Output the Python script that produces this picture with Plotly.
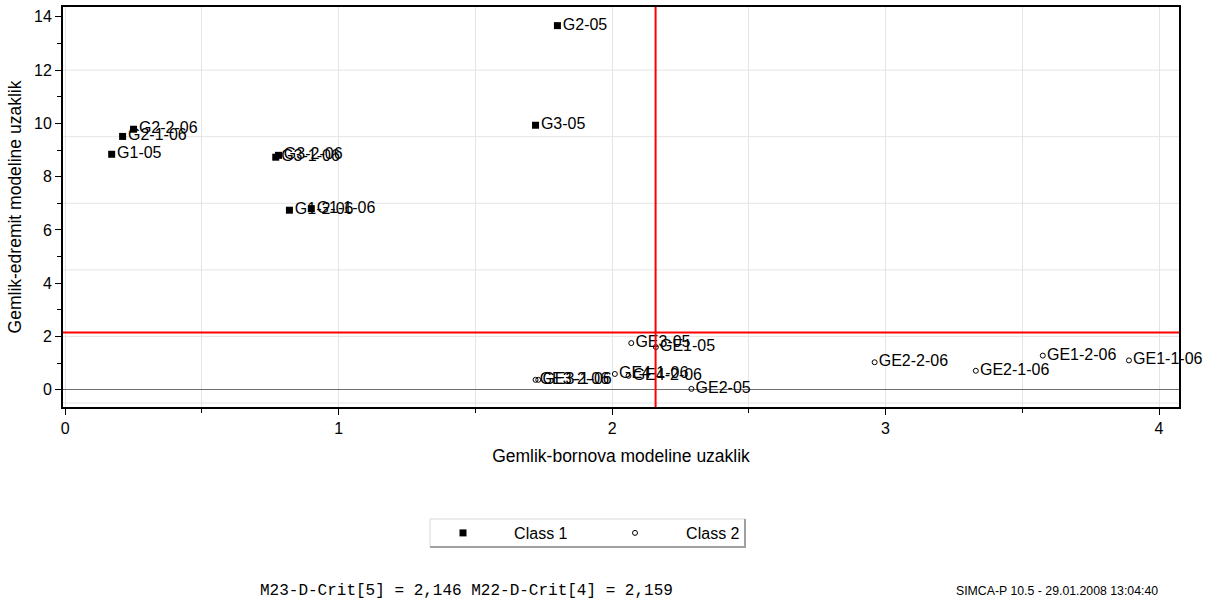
import plotly.graph_objects as go

# ---- data ----
class1_names = ["G2-05", "G3-05", "G2-2-06", "G2-1-06", "G1-05",
                "G3-2-06", "G3-1-06", "G1-2-06", "G1-1-06"]
class1_x = [1.80, 1.72, 0.25, 0.21, 0.17, 0.78, 0.77, 0.82, 0.90]
class1_y = [13.67, 9.93, 9.78, 9.51, 8.84, 8.80, 8.73, 6.74, 6.80]

class2_names = ["GE3-05", "GE1-05", "GE2-05", "GE3-2-06", "GE3-1-06",
                "GE4-1-06", "GE4-2-06", "GE2-2-06", "GE2-1-06",
                "GE1-2-06", "GE1-1-06"]
class2_x = [2.07, 2.16, 2.29, 1.72, 1.73, 2.01, 2.06, 2.96, 3.33, 3.575, 3.89]
class2_y = [1.75, 1.60, 0.03, 0.37, 0.37, 0.59, 0.52, 1.03, 0.71, 1.28, 1.10]

crit_x = 2.159   # M22-D-Crit[4]
crit_y = 2.146   # M23-D-Crit[5]

x_range = [-0.008, 4.073]
y_range = [-0.65, 14.37]
y_grid = [-0.5, 2, 4.5, 7, 9.5, 12]

FONT = "Liberation Sans, Arial, sans-serif"
NB = "\u00a0"

# plot-area geometry (pixels) used to place paper-referenced decorations
W, H = 1207, 600
ML, MR, MT, MB = 63, 28, 7, 193
PW, PH = W - ML - MR, H - MT - MB


def px(xp):
    return (xp - ML) / PW


def py(yp):
    return (H - MB - yp) / PH


fig = go.Figure()
fig.add_trace(go.Scatter(
    x=class1_x, y=class1_y, mode="markers+text", text=class1_names,
    textposition="middle right", name=NB * 7 + "Class 1",
    marker=dict(symbol="square", size=7, color="black", line=dict(width=0)),
    textfont=dict(family=FONT, size=16, color="black"), cliponaxis=True))
fig.add_trace(go.Scatter(
    x=class2_x, y=class2_y, mode="markers+text", text=class2_names,
    textposition="middle right", name=NB * 7 + "Class 2",
    marker=dict(symbol="circle-open", size=5, color="black", line=dict(width=1)),
    textfont=dict(family=FONT, size=16, color="black"), cliponaxis=False))

shapes = []
for gy in y_grid:
    shapes.append(dict(type="line", xref="paper", x0=0, x1=1, yref="y", y0=gy, y1=gy,
                       line=dict(color="#e4e4e4", width=1), layer="below"))
shapes.append(dict(type="line", xref="x", x0=crit_x, x1=crit_x, yref="paper", y0=0, y1=1,
                   line=dict(color="#ff0000", width=2)))
shapes.append(dict(type="line", xref="paper", x0=0, x1=1, yref="y", y0=crit_y, y1=crit_y,
                   line=dict(color="#ff0000", width=2)))
# legend box with bevel
shapes.append(dict(type="rect", xref="paper", yref="paper",
                   x0=px(430), x1=px(745), y0=py(547), y1=py(519),
                   line=dict(color="#d8d8d8", width=1), fillcolor="white", layer="below"))
shapes.append(dict(type="line", xref="paper", yref="paper",
                   x0=px(430), x1=px(746), y0=py(547), y1=py(547),
                   line=dict(color="#a0a0a0", width=2), layer="below"))
shapes.append(dict(type="line", xref="paper", yref="paper",
                   x0=px(745), x1=px(745), y0=py(547), y1=py(519),
                   line=dict(color="#a0a0a0", width=2), layer="below"))

fig.update_layout(
    width=W, height=H,
    margin=dict(l=ML, r=MR, t=MT, b=MB, autoexpand=False),
    paper_bgcolor="white", plot_bgcolor="white",
    font=dict(family=FONT, size=16, color="black"),
    shapes=shapes,
    showlegend=True,
    legend=dict(orientation="h", x=px(443), y=py(533), xanchor="left", yanchor="middle",
                borderwidth=0, bgcolor="rgba(0,0,0,0)",
                font=dict(family=FONT, size=16, color="black"),
                entrywidth=127, entrywidthmode="pixels", itemclick=False),
    annotations=[
        dict(text="M23-D-Crit[5] = 2,146 M22-D-Crit[4] = 2,159", xref="paper", yref="paper",
             x=px(466), y=py(591), xanchor="center", yanchor="middle", showarrow=False,
             font=dict(family="Liberation Mono, Courier New, monospace", size=16, color="black")),
        dict(text="SIMCA-P 10.5 - 29.01.2008 13:04:40", xref="paper", yref="paper",
             x=px(1160), y=py(591), xanchor="right", yanchor="middle", showarrow=False,
             font=dict(family=FONT, size=12.3, color="black")),
    ],
)
fig.update_xaxes(
    range=x_range, dtick=1, tick0=0, showgrid=True, gridcolor="#e4e4e4",
    zeroline=False, showline=True, linecolor="black", linewidth=2, mirror=True,
    ticks="outside", ticklen=6, tickcolor="black", tickfont=dict(size=16),
    minor=dict(dtick=0.5, tick0=0, ticks="outside", ticklen=4, showgrid=True,
               gridcolor="#e4e4e4", tickcolor="black"),
    title=dict(text="Gemlik-bornova modeline uzaklik", font=dict(size=17.5), standoff=14),
    automargin=False)
fig.update_yaxes(
    range=y_range, dtick=2, tick0=0, showgrid=False,
    zeroline=True, zerolinecolor="#707070", zerolinewidth=1,
    showline=True, linecolor="black", linewidth=2, mirror=True,
    ticks="outside", ticklen=6, tickcolor="black", tickfont=dict(size=16),
    minor=dict(dtick=1, tick0=0, ticks="outside", ticklen=4, showgrid=False, tickcolor="black"),
    title=dict(text="Gemlik-edremit modeline uzaklik", font=dict(size=17.5), standoff=8),
    automargin=False)

fig.write_html("out.html")
